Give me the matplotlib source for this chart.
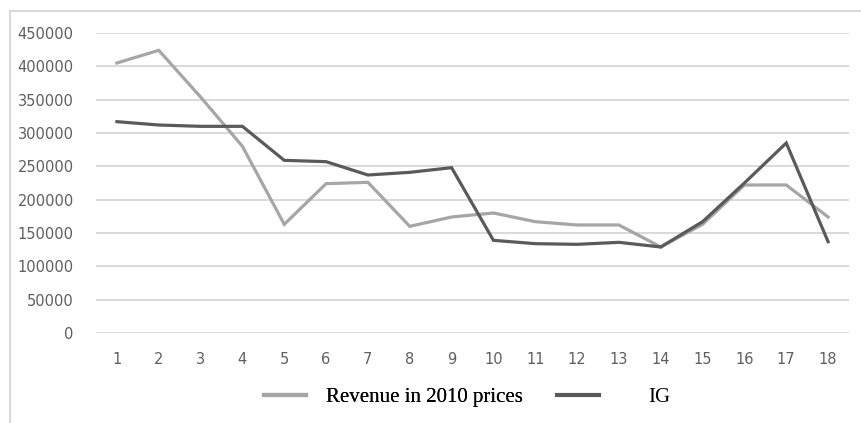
import matplotlib
matplotlib.use("Agg")
import matplotlib.pyplot as plt
from matplotlib.patches import Rectangle
from matplotlib.lines import Line2D

periods = list(range(1, 19))
revenue_2010 = [405000, 424000, 354000, 280000, 163000, 224000, 226000, 160000, 174000,
                180000, 167000, 162000, 162000, 129000, 163000, 222000, 222000, 174000]
ig = [317000, 312000, 310000, 310000, 259000, 257000, 237000, 241000, 248000,
      139000, 134000, 133000, 136000, 129000, 167000, 225000, 285000, 137000]
y_ticks = [0, 50000, 100000, 150000, 200000, 250000, 300000, 350000, 400000, 450000]
series_labels = ["Revenue in 2010 prices", "IG"]

W, H = 861, 423
fig = plt.figure(figsize=(W / 100, H / 100), dpi=100)
fig.patch.set_facecolor("white")

# outer chart frame
fig.add_artist(Rectangle((10 / W, -0.05), 1.1, 1 - 11 / H + 0.05, transform=fig.transFigure,
                         fill=False, edgecolor="#d9d9d9", linewidth=1.5, clip_on=False))

left, right = 96 / W, 849 / W
bottom, top = (H - 333) / H, (H - 33) / H
ax = fig.add_axes([left, bottom, right - left, top - bottom])

c_rev = "#a6a6a6"
c_ig = "#5a5a5a"
ax.plot(periods, revenue_2010, color=c_rev, linewidth=2.3, solid_joinstyle="miter")
ax.plot(periods, ig, color=c_ig, linewidth=2.3, solid_joinstyle="miter")

ax.set_xlim(0.5, 18.5)
ax.set_ylim(0, 450000)
ax.set_yticks(y_ticks)
ax.set_yticklabels([str(v) for v in y_ticks])
ax.set_xticks(periods)
ax.set_xticklabels([str(p) for p in periods])
ax.grid(axis="y", color="#d9d9d9", linewidth=1.4)
ax.set_axisbelow(True)
for s in ax.spines.values():
    s.set_visible(False)
ax.tick_params(axis="both", length=0, colors="#5f5f5f", labelsize=10.5)
ax.tick_params(axis="y", pad=16)
ax.tick_params(axis="x", pad=14)
for lab in ax.get_xticklabels() + ax.get_yticklabels():
    lab.set_fontfamily(["DejaVu Sans"])

leg_font = {"family": "Liberation Serif", "size": 15}
h1 = Line2D([], [], color=c_rev, linewidth=3)
h2 = Line2D([], [], color=c_ig, linewidth=3)
leg1 = fig.legend([h1], [series_labels[0]], loc="center left",
                  bbox_to_anchor=(264 / W, (H - 397) / H), frameon=False, prop=leg_font,
                  handlelength=2.0, handletextpad=1.0, borderpad=0, borderaxespad=0)
leg2 = fig.legend([h2], [series_labels[1]], loc="center left",
                  bbox_to_anchor=(557 / W, (H - 397) / H), frameon=False, prop=leg_font,
                  handlelength=2.0, handletextpad=2.4, borderpad=0, borderaxespad=0)
fig.add_artist(leg1)

fig.savefig("out.png", dpi=100)
